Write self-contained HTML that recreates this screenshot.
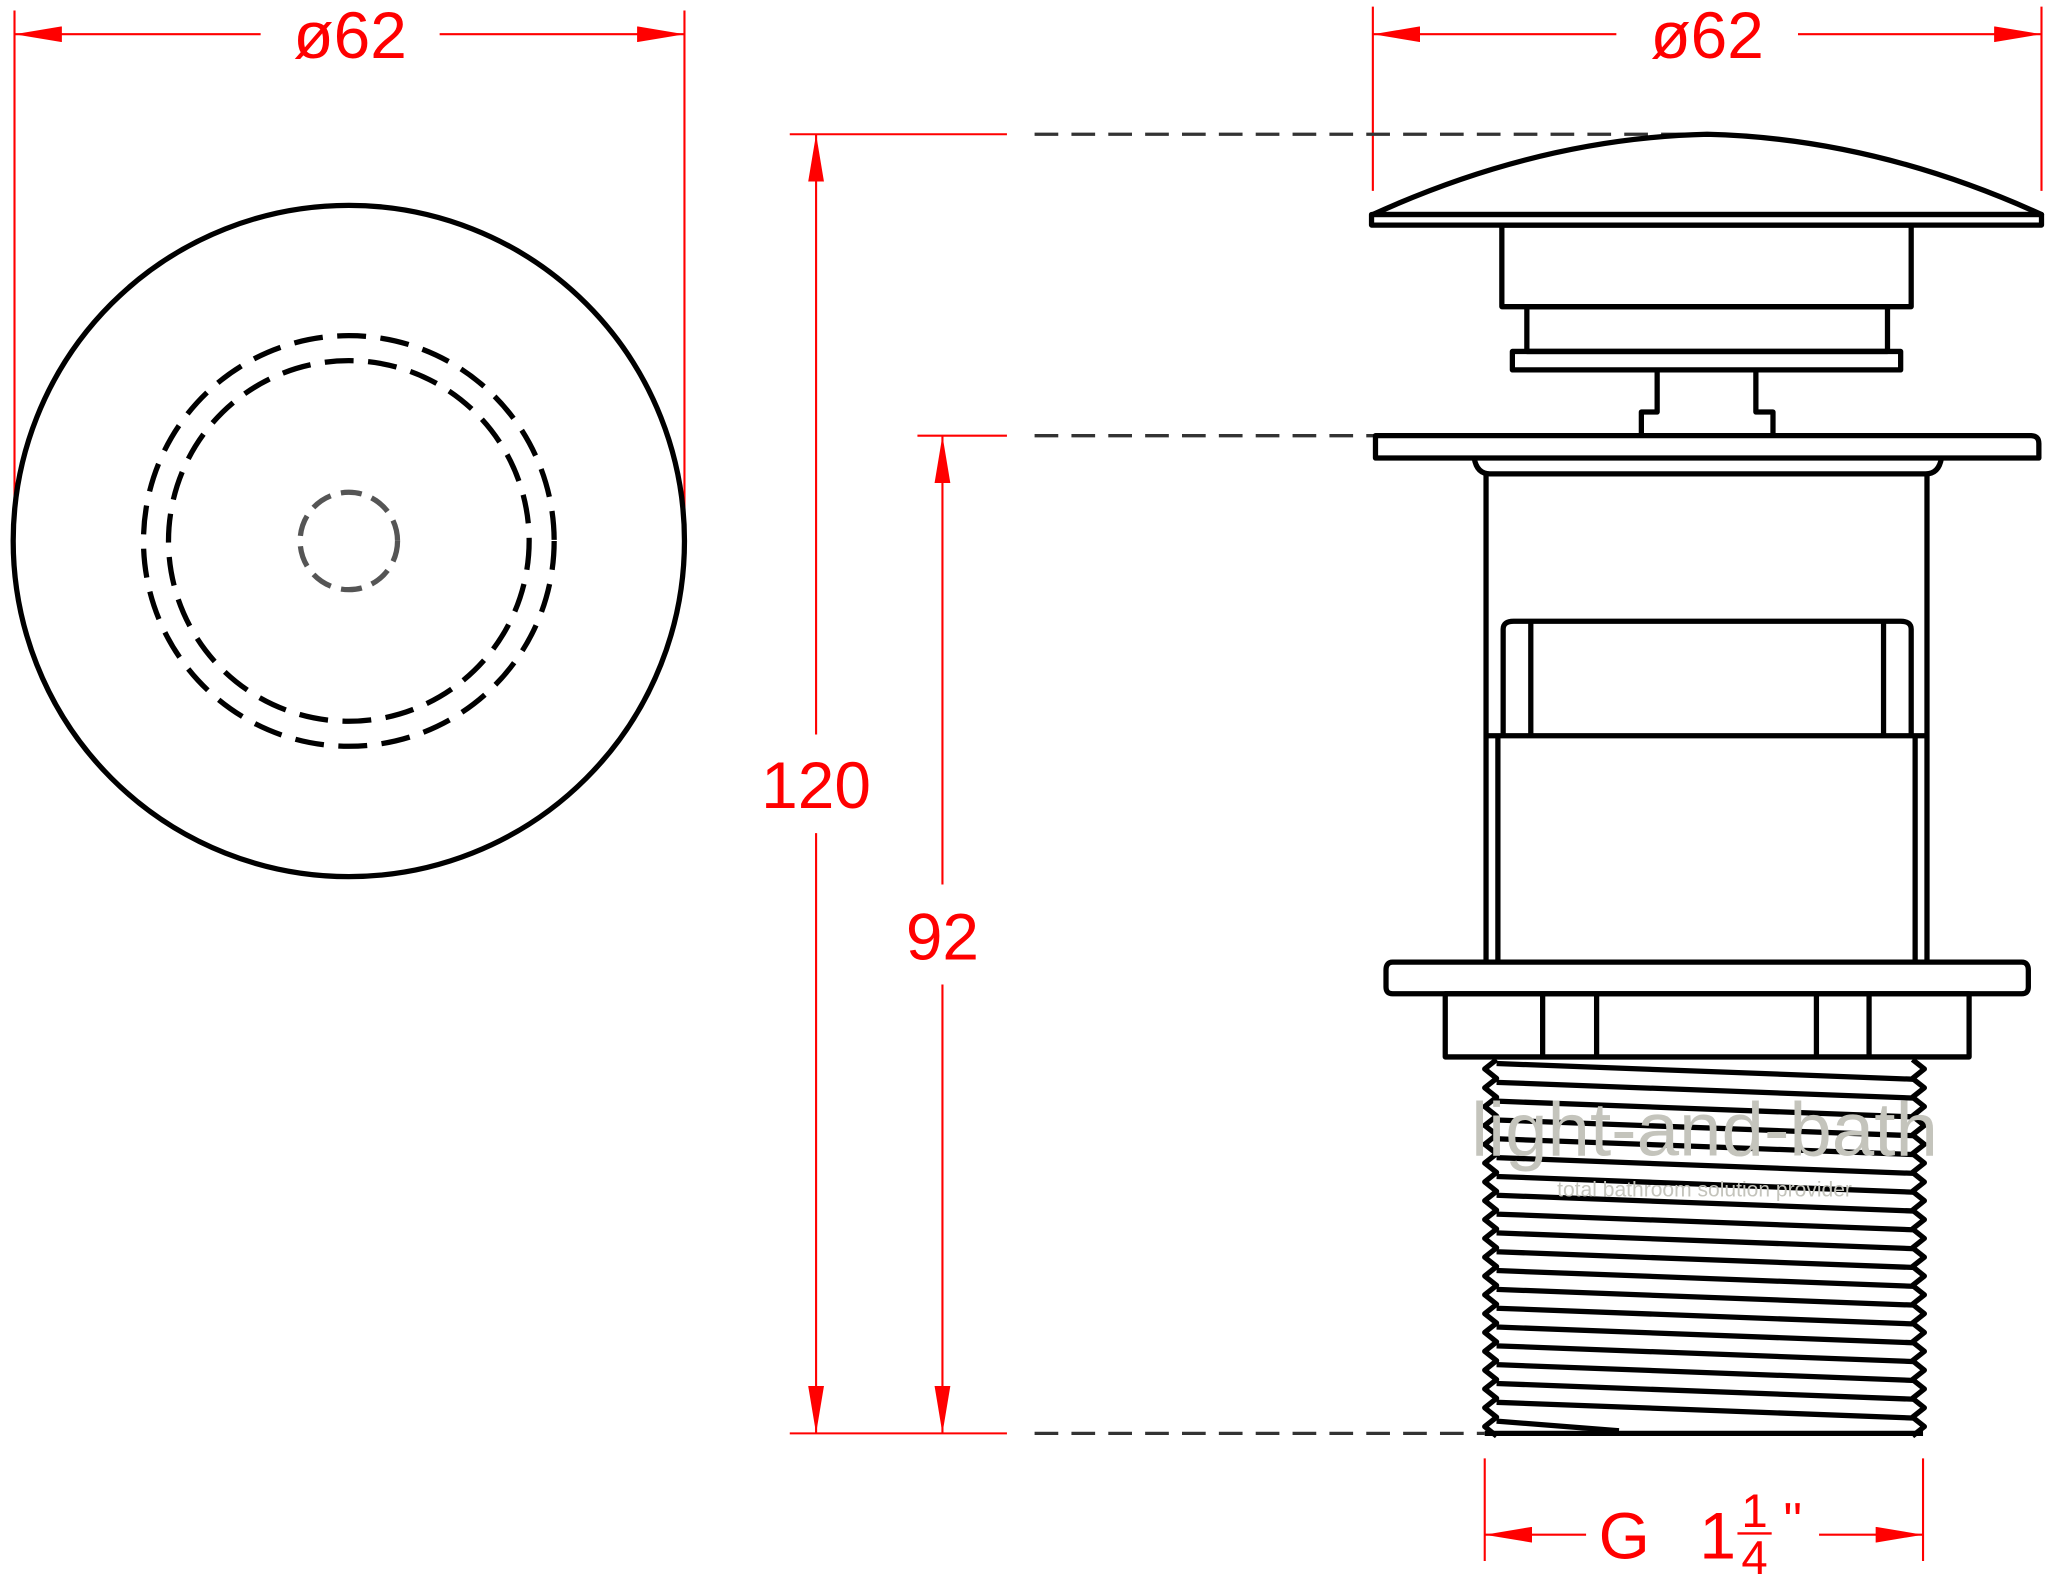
<!DOCTYPE html>
<html><head><meta charset="utf-8"><style>html,body{margin:0;padding:0;background:#fff}svg{display:block}</style></head>
<body>
<svg width="2056" height="1580" viewBox="0 0 1562 1200.4" xmlns="http://www.w3.org/2000/svg">
<defs>
<marker id="a" viewBox="0 0 36 12" refX="36" refY="6" markerWidth="36" markerHeight="12" markerUnits="userSpaceOnUse" orient="auto-start-reverse"><path d="M0 0 L36 6 L0 12 Z" fill="#f00"/></marker>
</defs>
<g fill="none" stroke="#f00" stroke-width="1.6">
<line x1="11" y1="8" x2="11" y2="395"/><line x1="520" y1="8" x2="520" y2="395"/>
<line x1="198" y1="26" x2="11" y2="26" marker-end="url(#a)"/><line x1="334" y1="26" x2="520" y2="26" marker-end="url(#a)"/>
<line x1="1043" y1="5" x2="1043" y2="145"/><line x1="1551" y1="5" x2="1551" y2="145"/>
<line x1="1228" y1="26" x2="1043" y2="26" marker-end="url(#a)"/><line x1="1366" y1="26" x2="1551" y2="26" marker-end="url(#a)"/>
<line x1="600" y1="102" x2="765" y2="102"/><line x1="697" y1="331" x2="765" y2="331"/><line x1="600" y1="1089" x2="765" y2="1089"/>
<line x1="620" y1="558" x2="620" y2="102" marker-end="url(#a)"/><line x1="620" y1="633" x2="620" y2="1089" marker-end="url(#a)"/>
<line x1="716" y1="672" x2="716" y2="331" marker-end="url(#a)"/><line x1="716" y1="748" x2="716" y2="1089" marker-end="url(#a)"/>
<line x1="1128" y1="1108" x2="1128" y2="1186"/><line x1="1461" y1="1108" x2="1461" y2="1186"/>
<line x1="1205" y1="1166" x2="1128" y2="1166" marker-end="url(#a)"/><line x1="1382" y1="1166" x2="1461" y2="1166" marker-end="url(#a)"/>
</g>
<g fill="#f00" font-family="Liberation Sans, sans-serif" text-anchor="middle">
<text x="266" y="44" font-size="50">ø62</text>
<text x="1297" y="44" font-size="50">ø62</text>
<text x="620" y="614" font-size="50">120</text>
<text x="716" y="729" font-size="50">92</text>
<text x="1234" y="1184" font-size="50">G</text>
<text x="1305" y="1184" font-size="50">1</text>
<text x="1333" y="1160" font-size="36">1</text>
<text x="1333" y="1196" font-size="36">4</text>
<line x1="1320" y1="1165" x2="1346" y2="1165" stroke="#f00" stroke-width="1.8"/>
<text x="1362" y="1168" font-size="38">''</text>
</g>
<g stroke="#333" stroke-width="2.5" stroke-dasharray="18 10" fill="none">
<line x1="786" y1="102" x2="1290" y2="102"/><line x1="786" y1="331" x2="1045" y2="331"/><line x1="786" y1="1089" x2="1128" y2="1089"/>
</g>
<g fill="none" stroke="#000" stroke-width="4">
<circle cx="265" cy="411" r="255"/>
<circle cx="265" cy="411" r="156" stroke-dasharray="22 11"/>
<circle cx="265" cy="411" r="137" stroke-dasharray="22 11"/>
<circle cx="265" cy="411" r="37" stroke="#555" stroke-dasharray="16 8"/>
</g>
<g fill="none" stroke="#000" stroke-width="4" stroke-linejoin="round">
<path d="M1043 163 Q1170 105 1297 102 Q1424 105 1551 163 Z"/>
<rect x="1042" y="163" width="509" height="8"/>
<rect x="1141" y="171" width="311" height="62"/>
<rect x="1160" y="233" width="274" height="34"/>
<rect x="1149" y="267" width="295" height="14"/>
<path d="M1259 281 V313 H1247 V331 M1334 281 V313 H1347 V331"/>
<path d="M1045 331 H1543 Q1549 331 1549 337 V348 H1045 Z"/>
<path d="M1120 348 Q1122 360 1132 360 H1463 Q1473 360 1475 348"/>
<path d="M1129 360 V731 M1464 360 V731"/>
<path d="M1142 559 V478 Q1142 472 1150 472 H1444 Q1452 472 1452 478 V559 M1163 472 V559 M1431 472 V559"/>
<line x1="1129" y1="559" x2="1464" y2="559"/>
<path d="M1138 559 V731 M1455 559 V731"/>
<path d="M1058 731 H1536 Q1541 731 1541 737 V750 Q1541 755 1536 755 H1058 Q1053 755 1053 750 V737 Q1053 731 1058 731 Z"/>
<rect x="1098" y="755" width="398" height="48"/>
<path d="M1172 755 V803 M1213 755 V803 M1380 755 V803 M1420 755 V803"/>
<path d="M1137 805 l-9 7.15 l9 7.15 l-9 7.15 l9 7.15 l-9 7.15 l9 7.15 l-9 7.15 l9 7.15 l-9 7.15 l9 7.15 l-9 7.15 l9 7.15 l-9 7.15 l9 7.15 l-9 7.15 l9 7.15 l-9 7.15 l9 7.15 l-9 7.15 l9 7.15 l-9 7.15 l9 7.15 l-9 7.15 l9 7.15 l-9 7.15 l9 7.15 l-9 7.15 l9 7.15 l-9 7.15 l9 7.15 l-9 7.15 l9 7.15 l-9 7.15 l9 7.15 l-9 7.15 l9 7.15 l-9 7.15 l9 7.15 l-9 7.15 l9 7.15"/>
<path d="M1453 805 l9 7.15 l-9 7.15 l9 7.15 l-9 7.15 l9 7.15 l-9 7.15 l9 7.15 l-9 7.15 l9 7.15 l-9 7.15 l9 7.15 l-9 7.15 l9 7.15 l-9 7.15 l9 7.15 l-9 7.15 l9 7.15 l-9 7.15 l9 7.15 l-9 7.15 l9 7.15 l-9 7.15 l9 7.15 l-9 7.15 l9 7.15 l-9 7.15 l9 7.15 l-9 7.15 l9 7.15 l-9 7.15 l9 7.15 l-9 7.15 l9 7.15 l-9 7.15 l9 7.15 l-9 7.15 l9 7.15 l-9 7.15 l9 7.15 l-9 7.15"/>
<line x1="1128" y1="1089" x2="1461" y2="1089"/>
</g>
<g stroke="#000" stroke-width="4">
<line x1="1137" y1="808" x2="1455" y2="820"/><line x1="1137" y1="822.3" x2="1455" y2="834.3"/>
<line x1="1137" y1="836.6" x2="1455" y2="848.6"/><line x1="1137" y1="850.9" x2="1455" y2="862.9"/>
<line x1="1137" y1="865.2" x2="1455" y2="877.2"/><line x1="1137" y1="879.5" x2="1455" y2="891.5"/>
<line x1="1137" y1="893.8" x2="1455" y2="905.8"/><line x1="1137" y1="908.1" x2="1455" y2="920.1"/>
<line x1="1137" y1="922.4" x2="1455" y2="934.4"/><line x1="1137" y1="936.7" x2="1455" y2="948.7"/>
<line x1="1137" y1="951" x2="1455" y2="963"/><line x1="1137" y1="965.3" x2="1455" y2="977.3"/>
<line x1="1137" y1="979.6" x2="1455" y2="991.6"/><line x1="1137" y1="993.9" x2="1455" y2="1005.9"/>
<line x1="1137" y1="1008.2" x2="1455" y2="1020.2"/><line x1="1137" y1="1022.5" x2="1455" y2="1034.5"/>
<line x1="1137" y1="1036.8" x2="1455" y2="1048.8"/><line x1="1137" y1="1051.1" x2="1455" y2="1063.1"/>
<line x1="1137" y1="1065.4" x2="1455" y2="1077.4"/><line x1="1137" y1="1079.7" x2="1230" y2="1087"/>
</g>
<g fill="#c4c4bc" font-family="Liberation Sans, sans-serif" text-anchor="middle">
<text x="1295" y="878" font-size="58">light-and-bath</text>
<text x="1295" y="909" font-size="16">total bathroom solution provider</text>
</g>
</svg>
</body></html>
